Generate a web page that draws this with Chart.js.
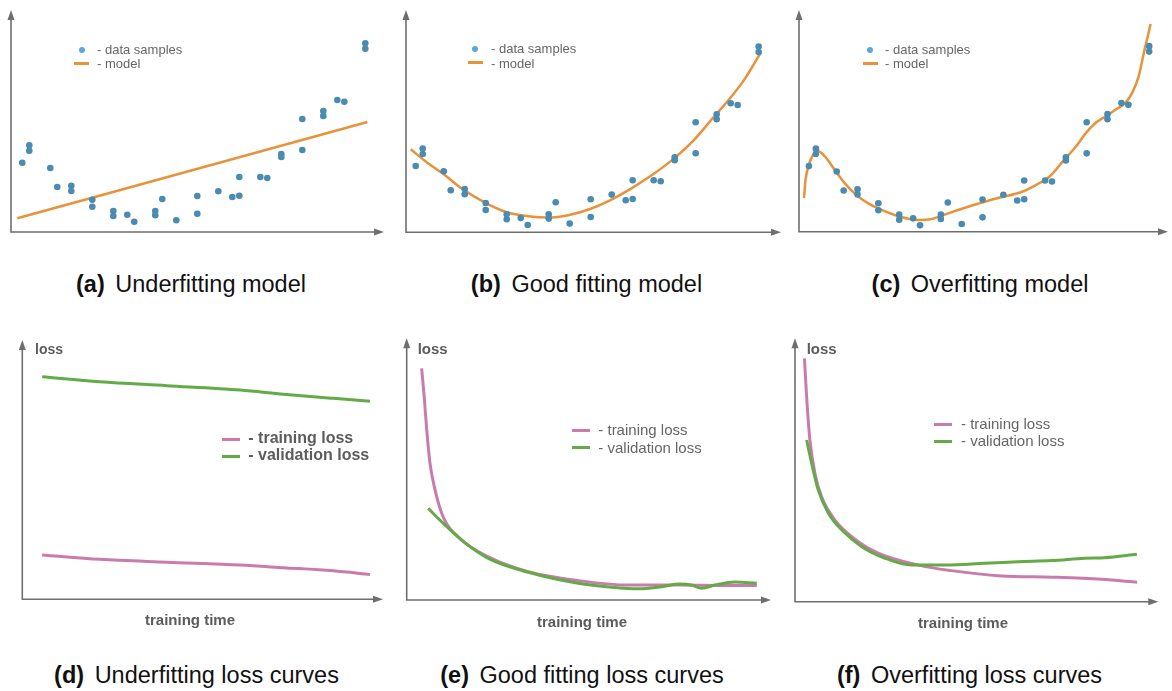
<!DOCTYPE html>
<html>
<head>
<meta charset="utf-8">
<script src="https://cdn.jsdelivr.net/npm/chart.js@4"></script>
<style>
  body { margin: 0; background: #fff; font-family: "Liberation Sans", Arial, sans-serif; }
  #page { position: relative; width: 1172px; height: 691px; overflow: hidden; }
  canvas { position: absolute; }
  .txt { position: absolute; line-height: 1; white-space: nowrap; transform: translateY(-50%); }
  .cap { font-size: 23.5px; color: #111; transform: translate(-50%, -50%); }
  .cap b { margin-right: 4px; }
  .small { font-size: 13px; color: #666; }
  .mid { font-size: 15px; color: #666; }
  .bold { font-weight: bold; color: #5c5c5c; }
  .dot { position: absolute; width: 6px; height: 6px; border-radius: 50%; background: #5ea6df; }
  .seg { position: absolute; height: 3px; }
</style>
</head>
<body>
<div id="page">
  <canvas id="chartA" width="392" height="245" style="left:0;top:0"></canvas>
  <canvas id="chartB" width="392" height="245" style="left:395px;top:0"></canvas>
  <canvas id="chartC" width="387" height="245" style="left:785px;top:0"></canvas>
  <canvas id="chartD" width="392" height="300" style="left:0;top:330px"></canvas>
  <canvas id="chartE" width="392" height="300" style="left:395px;top:330px"></canvas>
  <canvas id="chartF" width="387" height="300" style="left:785px;top:330px"></canvas>
</div>
<script>
// data samples (same set in all three model panels)
const sampleX = [0, 1, 1, 4, 5, 7, 7, 10, 10, 13, 13, 15, 16, 19, 19, 20, 22, 25, 25, 28, 30, 31, 31, 34, 35, 37, 37, 40, 40, 43, 43, 45, 46, 49, 49];
const sampleY = [6.93, 8.67, 8.13, 6.4, 4.5, 4.63, 4.1, 3.23, 2.53, 2.1, 1.6, 1.73, 1.03, 2.1, 1.67, 3.3, 1.17, 3.6, 1.83, 4.07, 3.5, 5.5, 3.63, 5.5, 5.4, 7.8, 7.5, 11.3, 8.2, 12.1, 11.6, 13.2, 13.03, 18.87, 18.33];

// model curves
const underX = [-0.7, 49.3];
const underY = [1.37, 11.0];
const goodX = [-0.71, 1.81, 4.19, 6.57, 9.9, 12.9, 16.1, 18.95, 21.8, 24.8, 27.76, 30.76, 33.7, 36.7, 39.7, 42.67, 44.67, 47.05, 49.3];
const goodY = [8.6, 7.17, 6.0, 4.67, 3.27, 2.33, 1.9, 1.77, 2.0, 2.6, 3.5, 4.67, 6.0, 7.57, 9.5, 11.9, 13.5, 15.67, 18.27];
const overX = [-0.71, -0.5, 0, 0.62, 1.33, 2.29, 3.71, 5.14, 6.81, 8.48, 9.9, 12.76, 15.62, 17.52, 19.43, 21.8, 24.67, 27.5, 30.4, 32.76, 34.67, 36.57, 38.48, 39.9, 41.3, 42.76, 44.2, 45.6, 46.57, 47.5, 48.24, 48.7, 49.2];
const overY = [3.74, 5.5, 7.07, 8.07, 8.4, 7.9, 6.57, 5.24, 4.07, 3.24, 2.74, 1.97, 1.57, 1.64, 2.07, 2.64, 3.24, 3.8, 4.3, 5.07, 5.9, 7.4, 8.9, 10.24, 11.24, 11.9, 12.57, 13.24, 14.24, 15.9, 18.24, 19.57, 21.07];

// loss curves (training time 0-100, loss 0-100)
const dTime = [5.5, 21.5, 40, 60.4, 72.4, 86.2, 96.4];
const dTrain = [17.1, 15.4, 14.3, 13.2, 12.2, 11.0, 9.6];
const dValid = [85.8, 83.9, 82.4, 80.7, 79.1, 77.5, 76.4];

const eTrainTime = [4.1, 4.8, 5.5, 6.4, 7.8, 10.0, 15.1, 22.4, 33.4, 47.1, 60.8, 74.6, 88.3, 96.1];
const eTrain = [88.5, 77.7, 65.0, 52.2, 42.0, 31.8, 22.9, 16.5, 10.8, 7.4, 5.7, 5.7, 5.5, 5.5];
const eValidTime = [5.9, 10.5, 15.1, 22.4, 33.4, 47.1, 56.3, 63.6, 70.0, 75.0, 78.2, 81.0, 84.6, 90.1, 96.1];
const eValid = [35.0, 28.7, 22.9, 15.9, 10.6, 6.4, 4.9, 4.3, 5.1, 6.1, 5.7, 4.5, 5.7, 6.9, 6.4];

const fTrainTime = [2.6, 3.2, 4.1, 5.5, 7.3, 11.0, 15.6, 22.9, 33.9, 43.1, 56.9, 70.7, 84.4, 94.2];
const fTrain = [92.4, 77.8, 61.4, 48.7, 39.9, 31.0, 24.7, 18.4, 13.9, 11.8, 9.8, 9.3, 8.5, 7.4];
const fValidTime = [3.2, 4.6, 6.4, 9.2, 12.9, 18.4, 24.8, 32.1, 41.3, 52.3, 61.5, 70.7, 79.8, 85.3, 94.1];
const fValid = [61.4, 52.5, 42.4, 33.6, 27.2, 20.9, 16.5, 13.9, 13.9, 14.6, 15.2, 15.6, 16.5, 16.7, 18.0];

const BLUE = '#4a8bb1';
const ORANGE = '#e8923a';
const PINK = '#c97cac';
const GREEN = '#64aa47';
const AXIS = '#6e6e6e';

function pts(xs, ys) {
  return xs.map((x, i) => ({ x: x, y: ys[i] }));
}

// axes drawn as arrows along the left and bottom of the chart area
const arrowAxes = {
  id: 'arrowAxes',
  beforeDatasetsDraw(chart) {
    const { ctx, chartArea: a } = chart;
    ctx.save();
    ctx.strokeStyle = AXIS;
    ctx.fillStyle = AXIS;
    ctx.lineWidth = 1.6;
    ctx.beginPath();
    ctx.moveTo(a.left, a.top + 8);
    ctx.lineTo(a.left, a.bottom);
    ctx.lineTo(a.right - 8, a.bottom);
    ctx.stroke();
    ctx.beginPath();
    ctx.moveTo(a.left, a.top);
    ctx.lineTo(a.left - 3.5, a.top + 10);
    ctx.lineTo(a.left + 3.5, a.top + 10);
    ctx.closePath();
    ctx.fill();
    ctx.beginPath();
    ctx.moveTo(a.right, a.bottom);
    ctx.lineTo(a.right - 10, a.bottom - 3.5);
    ctx.lineTo(a.right - 10, a.bottom + 3.5);
    ctx.closePath();
    ctx.fill();
    ctx.restore();
  }
};

function makeChart(id, area, xr, yr, datasets) {
  const cv = document.getElementById(id);
  const left = parseFloat(cv.style.left) || 0;
  const top = parseFloat(cv.style.top) || 0;
  new Chart(cv.getContext('2d'), {
    type: 'scatter',
    data: { datasets: datasets },
    options: {
      responsive: false,
      animation: false,
      devicePixelRatio: 1,
      layout: {
        padding: {
          left: area[0] - left,
          top: area[1] - top,
          right: left + cv.width - area[2],
          bottom: top + cv.height - area[3]
        }
      },
      plugins: { legend: { display: false }, tooltip: { enabled: false } },
      scales: {
        x: { type: 'linear', display: false, min: xr[0], max: xr[1] },
        y: { type: 'linear', display: false, min: yr[0], max: yr[1] }
      }
    },
    plugins: [arrowAxes]
  });
}

function samples() {
  return { data: pts(sampleX, sampleY), backgroundColor: BLUE, pointRadius: 3.3, pointBorderWidth: 0, order: 1 };
}

function curve(xs, ys, color, width) {
  return {
    data: pts(xs, ys), showLine: true, borderColor: color, borderWidth: width,
    pointRadius: 0, cubicInterpolationMode: 'monotone', clip: false, order: 2
  };
}

makeChart('chartA', [11, 10, 384, 232], [-1.61, 51.67], [0, 22.2],
  [samples(), curve(underX, underY, ORANGE, 2.5)]);
makeChart('chartB', [406, 10, 781, 232.3], [-1.39, 52.19], [0.3, 22.53],
  [samples(), curve(goodX, goodY, ORANGE, 2.5)]);
makeChart('chartC', [799, 10, 1171, 231.7], [-1.43, 51.71], [0.4, 22.47],
  [samples(), curve(overX, overY, ORANGE, 2.5)]);

makeChart('chartD', [22.3, 340, 383, 599.3], [0, 100], [0, 100],
  [curve(dTime, dValid, GREEN, 3), curve(dTime, dTrain, PINK, 3)]);
makeChart('chartE', [406.7, 338.3, 771, 600], [0, 100], [0, 100],
  [curve(eValidTime, eValid, GREEN, 3), curve(eTrainTime, eTrain, PINK, 3)]);
makeChart('chartF', [795, 338.3, 1158.3, 601.7], [0, 100], [0, 100],
  [curve(fValidTime, fValid, GREEN, 3), curve(fTrainTime, fTrain, PINK, 3)]);

// text and legend keys
const page = document.getElementById('page');
function put(cls, html, x, y, css) {
  const el = document.createElement('div');
  el.className = cls;
  el.innerHTML = html;
  el.style.left = x + 'px';
  el.style.top = y + 'px';
  if (css) el.style.cssText += css;
  page.appendChild(el);
  return el;
}

[[81.7, 49.5, 74, 63, 97], [475, 49, 468, 62.5, 491], [870, 50, 863, 63.3, 885]].forEach(p => {
  put('dot', '', p[0] - 3, p[1] - 3);
  put('seg', '', p[2], p[3] - 1.5, 'width:15px;background:' + ORANGE);
  put('txt small', '- data samples', p[4], p[1] - 1);
  put('txt small', '- model', p[4], p[3]);
});

put('txt bold', 'loss', 35, 349, 'font-size:14px');
put('txt bold', 'loss', 417.7, 347.5, 'font-size:15px');
put('txt bold', 'loss', 806.7, 347.5, 'font-size:15px');
put('txt bold', 'training time', 190, 619, 'font-size:15px;transform:translate(-50%,-50%)');
put('txt bold', 'training time', 582, 620.5, 'font-size:15px;transform:translate(-50%,-50%)');
put('txt bold', 'training time', 963, 621.5, 'font-size:15px;transform:translate(-50%,-50%)');

// loss legends: [segment left, training y, validation y, text left, bold]
[[221.7, 439, 456.3, 248.3, true], [571.7, 430, 447.7, 598.3, false], [934, 424.3, 441, 961, false]].forEach(p => {
  put('seg', '', p[0], p[1] - 1.5, 'width:18px;background:' + PINK);
  put('seg', '', p[0], p[2] - 1.5, 'width:18px;background:' + GREEN);
  const cls = p[4] ? 'txt bold' : 'txt mid';
  const fs = p[4] ? 'font-size:16px' : '';
  put(cls, '- training loss', p[3], p[1] - 1, fs);
  put(cls, '- validation loss', p[3], p[2] - 1, fs);
});

const captions = [
  ['(a)', 'Underfitting model', 191, 284.5],
  ['(b)', 'Good fitting model', 586.5, 284.5],
  ['(c)', 'Overfitting model', 980, 284.5],
  ['(d)', 'Underfitting loss curves', 196.5, 676.3],
  ['(e)', 'Good fitting loss curves', 582, 676.3],
  ['(f)', 'Overfitting loss curves', 969.5, 676.3]
];
captions.forEach(c => put('txt cap', '<b>' + c[0] + '</b> ' + c[1], c[2], c[3]));
</script>
</body>
</html>
